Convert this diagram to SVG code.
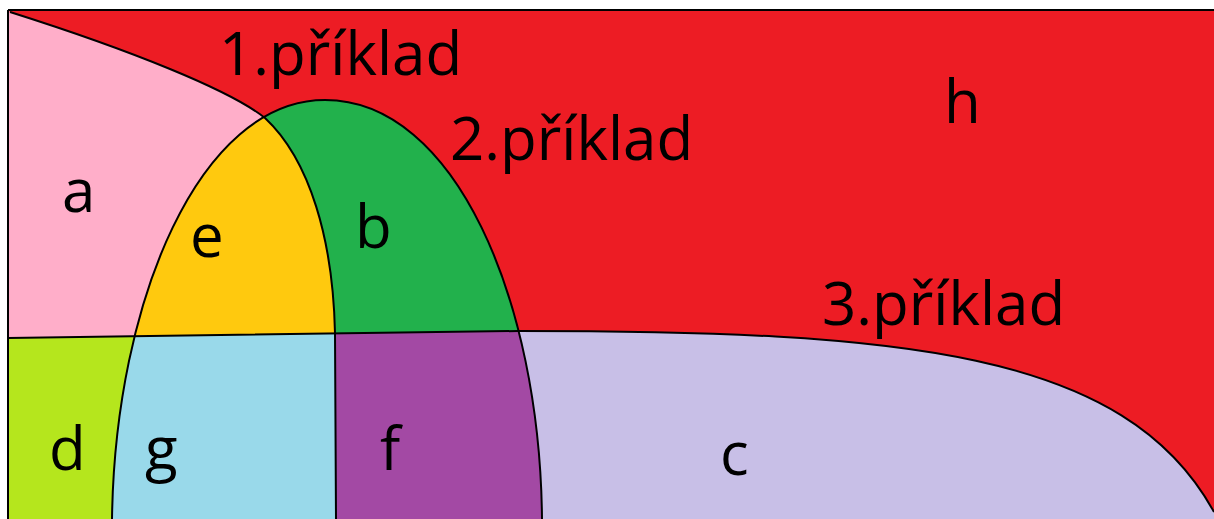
<svg xmlns="http://www.w3.org/2000/svg" width="1214" height="519" viewBox="0 0 1214 519">
<style>
.lbl{font-family:"Open Sans","Noto Sans","Liberation Sans",sans-serif;font-size:60px;fill:#000}
.edge{fill:none;stroke:#000;stroke-width:2}
</style>
<defs>
<clipPath id="arch"><path d="M112,519 C115,300 200,100 325,100 C455,100 540,300 542,519 Z"/></clipPath>
</defs>
<rect width="1214" height="519" fill="#fff"/>
<g id="h"><rect x="8" y="10" width="1206" height="509" fill="#ED1C24"/><text class="lbl" x="944" y="123">h</text></g>
<g id="c"><path d="M8,338 L518,331 C900,331 1125,350 1214,512 L1214,519 L8,519 Z" fill="#C8BFE7"/><text class="lbl" x="720" y="475">c</text></g>
<g id="a"><path d="M8,10 L10,12 C130,50 230,90 265,118 C310,160 333,240 335,333 L336,519 L8,519 Z" fill="#FFAEC9"/><text class="lbl" x="62" y="212">a</text></g>
<g id="d"><path d="M8,338 L335,333.5 L336,519 L8,519 Z" fill="#B5E61D"/><text class="lbl" x="49" y="470">d</text></g>
<g clip-path="url(#arch)">
<g id="b"><rect x="100" y="90" width="460" height="429" fill="#22B14C"/><text class="lbl" x="355" y="248">b</text></g>
<g id="e"><path d="M8,10 L10,12 C130,50 230,90 265,118 C310,160 333,240 335,333 L8,338 Z" fill="#FFC90E"/><text class="lbl" x="190" y="257">e</text></g>
<g id="g"><path d="M8,338 L335,333.5 L336,519 L8,519 Z" fill="#99D9EA"/><text class="lbl" x="145" y="470">g</text></g>
<g id="f"><path d="M335,333.5 L560,330.5 L560,519 L336,519 Z" fill="#A349A4"/><text class="lbl" x="380" y="470">f</text></g>
</g>
<g id="connectors">
<path class="edge" d="M10,12 C130,50 230,90 265,118 C310,160 333,240 335,333 L336,519"/>
<path class="edge" d="M112,519 C115,300 200,100 325,100 C455,100 540,300 542,519"/>
<path class="edge" d="M8,338 L518,331 C900,331 1125,350 1214,512"/>
<path class="edge" d="M8,10 L1214,10 M8,10 L8,519"/>
</g>
<g id="labels">
<text class="lbl" x="219" y="75">1.příklad</text>
<text class="lbl" x="450" y="160">2.příklad</text>
<text class="lbl" x="822" y="325">3.příklad</text>
</g>
</svg>
